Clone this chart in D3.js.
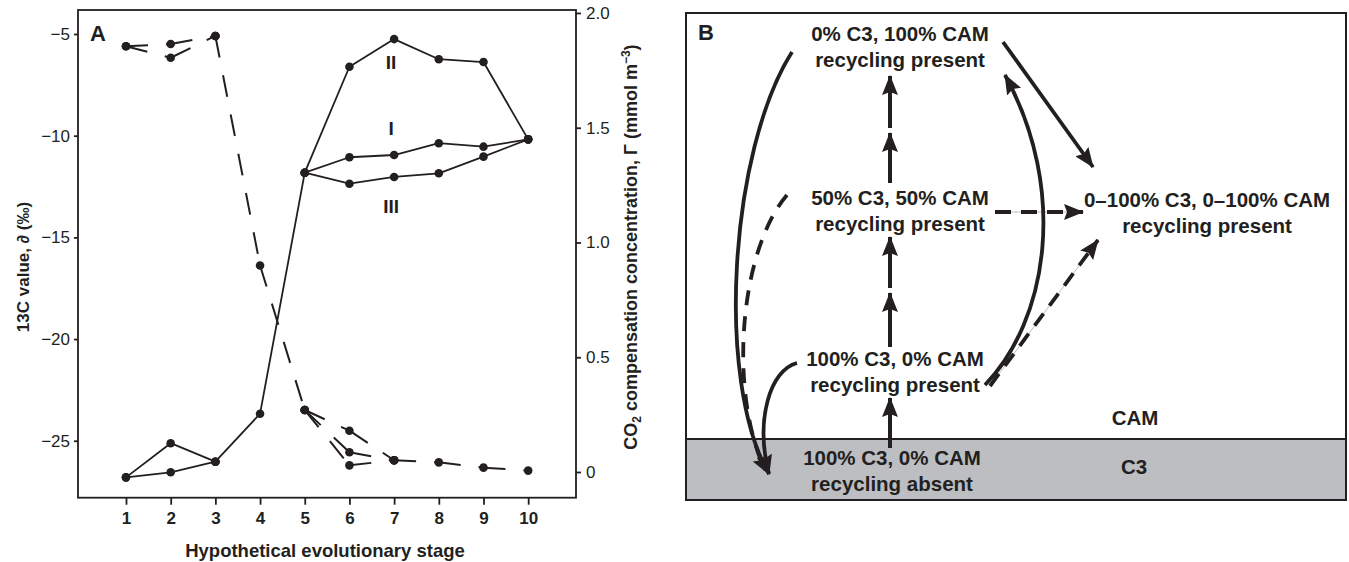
<!DOCTYPE html>
<html>
<head>
<meta charset="utf-8">
<script src="https://cdn.jsdelivr.net/npm/d3@7"></script>
<style>
    body { margin: 0; background: #fff; }
    svg { display: block; font-family: "Liberation Sans", Arial, Helvetica, sans-serif; }
</style>
</head>
<body>
<div class="svg-target"></div>
<script>
// ---------- panel A values ----------
const stageTicks = [1, 2, 3, 4, 5, 6, 7, 8, 9, 10];
const leftTicks = [-25, -20, -15, -10, -5];
const rightTicks = [0, 0.5, 1.0, 1.5, 2.0];

// 13C value (left axis), solid lines
const earlyStages = [1, 2, 3];
const d13cEarlyUpper = [-26.8, -25.12, -26.03];
const d13cEarlyLower = [-26.8, -26.55, -26.03];
const midStages = [3, 4, 5];
const d13cMid = [-26.03, -23.67, -11.82];
const lateStages = [5, 6, 7, 8, 9, 10];
const d13cI = [-11.82, -11.06, -10.95, -10.37, -10.54, -10.18];
const d13cII = [-11.82, -6.61, -5.25, -6.24, -6.38, -10.18];
const d13cIII = [-11.82, -12.36, -12.03, -11.85, -11.03, -10.18];
const branchNames = ['I', 'II', 'III'];

// CO2 compensation concentration (right axis), dashed lines
const gammaEarlyUpper = [1.855, 1.865, 1.9];
const gammaEarlyLower = [1.855, 1.805, 1.9];
const gammaMid = [1.9, 0.9, 0.27];
const branchStages = [5, 6, 7];
const gammaBranchA = [0.27, 0.18, 0.051];
const gammaBranchB = [0.27, 0.086, 0.051];
const gammaBranchC = [0.27, 0.029, 0.051];
const tailStages = [7, 8, 9, 10];
const gammaTail = [0.051, 0.042, 0.019, 0.006];

// ---------- panel B labels ----------
const nodeLabels = [
    ['0% C3, 100% CAM', 'recycling present'],
    ['50% C3, 50% CAM', 'recycling present'],
    ['0\u2013100% C3, 0\u2013100% CAM', 'recycling present'],
    ['100% C3, 0% CAM', 'recycling present'],
    ['100% C3, 0% CAM', 'recycling absent']
];
const zoneLabels = ['CAM', 'C3'];

const ink = '#231f20';
const w = 1349;
const h = 562;

const svg = d3.select('.svg-target')
    .append('svg')
    .attr('width', w)
    .attr('height', h);

// markers
const defs = svg.append('defs');
defs.append('marker')
    .attr('id', 'head')
    .attr('viewBox', '0 0 20 16')
    .attr('refX', 19)
    .attr('refY', 8)
    .attr('markerWidth', 20)
    .attr('markerHeight', 16)
    .attr('markerUnits', 'userSpaceOnUse')
    .attr('orient', 'auto')
    .append('path')
    .attr('d', 'M0,0 L20,8 L0,16 L3,8 Z')
    .attr('fill', ink);

// ================= Panel A =================
const A = { left: 78, right: 576, top: 10, bottom: 497.7 };

const x = d3.scaleLinear().domain([-0.074, 11.07]).range([A.left, A.right]);
const yL = d3.scaleLinear().domain([-27.8, -3.82]).range([A.bottom, A.top]);
const yR = d3.scaleLinear().domain([-0.112, 2.013]).range([A.bottom, A.top]);

const gA = svg.append('g');

// axes
const xAxis = gA.append('g')
    .attr('transform', `translate(0, ${A.bottom})`)
    .call(d3.axisBottom(x).tickValues(stageTicks).tickSize(7).tickPadding(7).tickSizeOuter(0));
xAxis.selectAll('text').style('font-size', '17px').style('font-weight', 'bold');

const leftAxis = gA.append('g')
    .attr('transform', `translate(${A.left}, 0)`)
    .call(d3.axisLeft(yL).tickValues(leftTicks).tickSize(4).tickPadding(4).tickSizeOuter(0));
leftAxis.selectAll('text').style('font-size', '17px');

const rightAxis = gA.append('g')
    .attr('transform', `translate(${A.right}, 0)`)
    .call(d3.axisRight(yR).tickValues(rightTicks).tickSize(5).tickPadding(5).tickSizeOuter(0)
        .tickFormat(d => d === 0 ? '0' : d3.format('.1f')(d)));
rightAxis.selectAll('text').style('font-size', '17px');

[xAxis, leftAxis, rightAxis].forEach(a => {
    a.select('.domain').remove();
    a.selectAll('line').attr('stroke', ink).attr('stroke-width', 1.8);
    a.selectAll('text').attr('fill', ink).style('font-family', '"Liberation Sans", Arial, sans-serif');
});

// frame
gA.append('rect')
    .attr('x', A.left).attr('y', A.top)
    .attr('width', A.right - A.left).attr('height', A.bottom - A.top)
    .attr('fill', 'none').attr('stroke', ink).attr('stroke-width', 1.8);

// solid 13C lines
const zip = (xs, ys) => xs.map((s, i) => [s, ys[i]]);
const lineL = d3.line().x(d => x(d[0])).y(d => yL(d[1]));
const solidSeries = [
    zip(earlyStages, d13cEarlyUpper),
    zip(earlyStages, d13cEarlyLower),
    zip(midStages, d13cMid),
    zip(lateStages, d13cI),
    zip(lateStages, d13cII),
    zip(lateStages, d13cIII)
];
gA.selectAll('path.solid')
    .data(solidSeries)
    .enter()
    .append('path')
    .attr('class', 'solid')
    .attr('d', lineL)
    .attr('fill', 'none')
    .attr('stroke', ink)
    .attr('stroke-width', 1.8)
    .attr('stroke-linejoin', 'round');

// dashed gamma lines, every segment starts its own dash
const dashedSeries = [
    zip(earlyStages, gammaEarlyUpper),
    zip(earlyStages, gammaEarlyLower),
    zip(midStages, gammaMid),
    zip(branchStages, gammaBranchA),
    zip(branchStages, gammaBranchB),
    zip(branchStages, gammaBranchC),
    zip(tailStages, gammaTail)
];
const dashedSegs = dashedSeries.flatMap(s => d3.pairs(s));
gA.selectAll('line.dash')
    .data(dashedSegs)
    .enter()
    .append('line')
    .attr('class', 'dash')
    .attr('x1', d => x(d[0][0])).attr('y1', d => yR(d[0][1]))
    .attr('x2', d => x(d[1][0])).attr('y2', d => yR(d[1][1]))
    .attr('stroke', ink)
    .attr('stroke-width', 2)
    .attr('stroke-dasharray', '22,18');

// dots
const solidDots = solidSeries.flat().map(d => [x(d[0]), yL(d[1])]);
const dashDots = dashedSeries.flat().map(d => [x(d[0]), yR(d[1])]);
gA.selectAll('circle')
    .data(solidDots.concat(dashDots))
    .enter()
    .append('circle')
    .attr('cx', d => d[0])
    .attr('cy', d => d[1])
    .attr('r', 4.3)
    .attr('fill', ink);

// branch labels (I, II, III) near stage 7
const branchVals = [d13cI, d13cII, d13cIII];
const branchDy = [-20, 30, 36];
gA.selectAll('text.branch')
    .data(branchNames)
    .enter()
    .append('text')
    .attr('class', 'branch')
    .attr('x', x(7) - 3)
    .attr('y', (d, i) => yL(branchVals[i][2]) + branchDy[i])
    .attr('text-anchor', 'middle')
    .attr('font-size', 19)
    .attr('font-weight', 'bold')
    .attr('fill', ink)
    .text(d => d);

// panel letter and axis titles
gA.append('text')
    .attr('x', 90).attr('y', 41)
    .attr('font-size', 22).attr('font-weight', 'bold').attr('fill', ink)
    .text('A');

gA.append('text')
    .attr('x', 325).attr('y', 557)
    .attr('text-anchor', 'middle')
    .attr('font-size', 18.5).attr('font-weight', 'bold').attr('fill', ink)
    .text('Hypothetical evolutionary stage');

gA.append('text')
    .attr('transform', 'translate(29, 267) rotate(-90)')
    .attr('text-anchor', 'middle')
    .attr('font-size', 17).attr('font-weight', 'bold').attr('fill', ink)
    .text('13C value, \u2202 (\u2030)');

const rTitle = gA.append('text')
    .attr('transform', 'translate(637, 247) rotate(-90)')
    .attr('text-anchor', 'middle')
    .attr('font-size', 18).attr('font-weight', 'bold').attr('fill', ink);
rTitle.append('tspan').text('CO');
rTitle.append('tspan').attr('font-size', 12).attr('dy', 4).text('2');
rTitle.append('tspan').attr('dy', -4).text(' compensation concentration, \u0393 (mmol m');
rTitle.append('tspan').attr('font-size', 12).attr('dy', -7).text('\u22123');
rTitle.append('tspan').attr('dy', 7).text(')');

// ================= Panel B =================
const B = { left: 686, right: 1346, top: 13, bottom: 500, c3Top: 439 };
const gB = svg.append('g');

gB.append('rect')
    .attr('x', B.left).attr('y', B.c3Top)
    .attr('width', B.right - B.left).attr('height', B.bottom - B.c3Top)
    .attr('fill', '#bcbec1');
gB.append('line')
    .attr('x1', B.left).attr('x2', B.right)
    .attr('y1', B.c3Top).attr('y2', B.c3Top)
    .attr('stroke', ink).attr('stroke-width', 2);
gB.append('rect')
    .attr('x', B.left).attr('y', B.top)
    .attr('width', B.right - B.left).attr('height', B.bottom - B.top)
    .attr('fill', 'none').attr('stroke', ink).attr('stroke-width', 2);

gB.append('text')
    .attr('x', 698).attr('y', 40)
    .attr('font-size', 22).attr('font-weight', 'bold').attr('fill', ink)
    .text('B');

// node text
const nodePos = [[900, 41], [900, 205], [1207, 207], [895, 366], [892, 465]];
const nodes = gB.selectAll('text.node')
    .data(nodeLabels)
    .enter()
    .append('text')
    .attr('class', 'node')
    .attr('text-anchor', 'middle')
    .attr('font-size', 20.5)
    .attr('font-weight', 'bold')
    .attr('fill', ink)
    .attr('transform', (d, i) => `translate(${nodePos[i][0]}, ${nodePos[i][1]})`);
nodes.selectAll('tspan')
    .data(d => d)
    .enter()
    .append('tspan')
    .attr('x', 0)
    .attr('y', (d, i) => i * 26)
    .text(d => d);

const zonePos = [[1135, 425], [1134, 474]];
gB.selectAll('text.zone')
    .data(zoneLabels)
    .enter()
    .append('text')
    .attr('class', 'zone')
    .attr('x', (d, i) => zonePos[i][0])
    .attr('y', (d, i) => zonePos[i][1])
    .attr('text-anchor', 'middle')
    .attr('font-size', 20.5).attr('font-weight', 'bold').attr('fill', ink)
    .text(d => d);

// vertical stacked arrows
const vArrows = [[128, 76], [183, 133], [288, 237], [347, 293], [448, 398]];
gB.selectAll('line.varrow')
    .data(vArrows)
    .enter()
    .append('line')
    .attr('class', 'varrow')
    .attr('x1', 890).attr('x2', 890)
    .attr('y1', d => d[0]).attr('y2', d => d[1])
    .attr('stroke', ink).attr('stroke-width', 4)
    .attr('marker-end', 'url(#head)');

// thin guide lines under the dashed arrows
const guide = ['M995,212 L1083,212', 'M990,386 L1098,240'];
gB.selectAll('path.guide')
    .data(guide)
    .enter()
    .append('path')
    .attr('class', 'guide')
    .attr('d', d => d)
    .attr('stroke', '#b5b5b5').attr('stroke-width', 0.9).attr('fill', 'none');

const arrows = [
    { d: 'M792,52 C730,150 715,380 769,474', dash: null, head: true },
    { d: 'M797,363 C770,370 755,420 769,474', dash: null, head: true },
    { d: 'M787,195 C740,250 728,390 765,470', dash: '15,11', head: false },
    { d: 'M1003,42 L1093,167', dash: null, head: true },
    { d: 'M985,385 C1048,320 1068,190 1005,75', dash: null, head: true },
    { d: 'M995,212 L1083,212', dash: '16,10', head: true },
    { d: 'M990,386 L1098,240', dash: '15,10', head: true }
];
gB.selectAll('path.arrow')
    .data(arrows)
    .enter()
    .append('path')
    .attr('class', 'arrow')
    .attr('d', d => d.d)
    .attr('fill', 'none')
    .attr('stroke', ink)
    .attr('stroke-width', 3.8)
    .attr('stroke-dasharray', d => d.dash)
    .attr('marker-end', d => d.head ? 'url(#head)' : null);
</script>
</body>
</html>
